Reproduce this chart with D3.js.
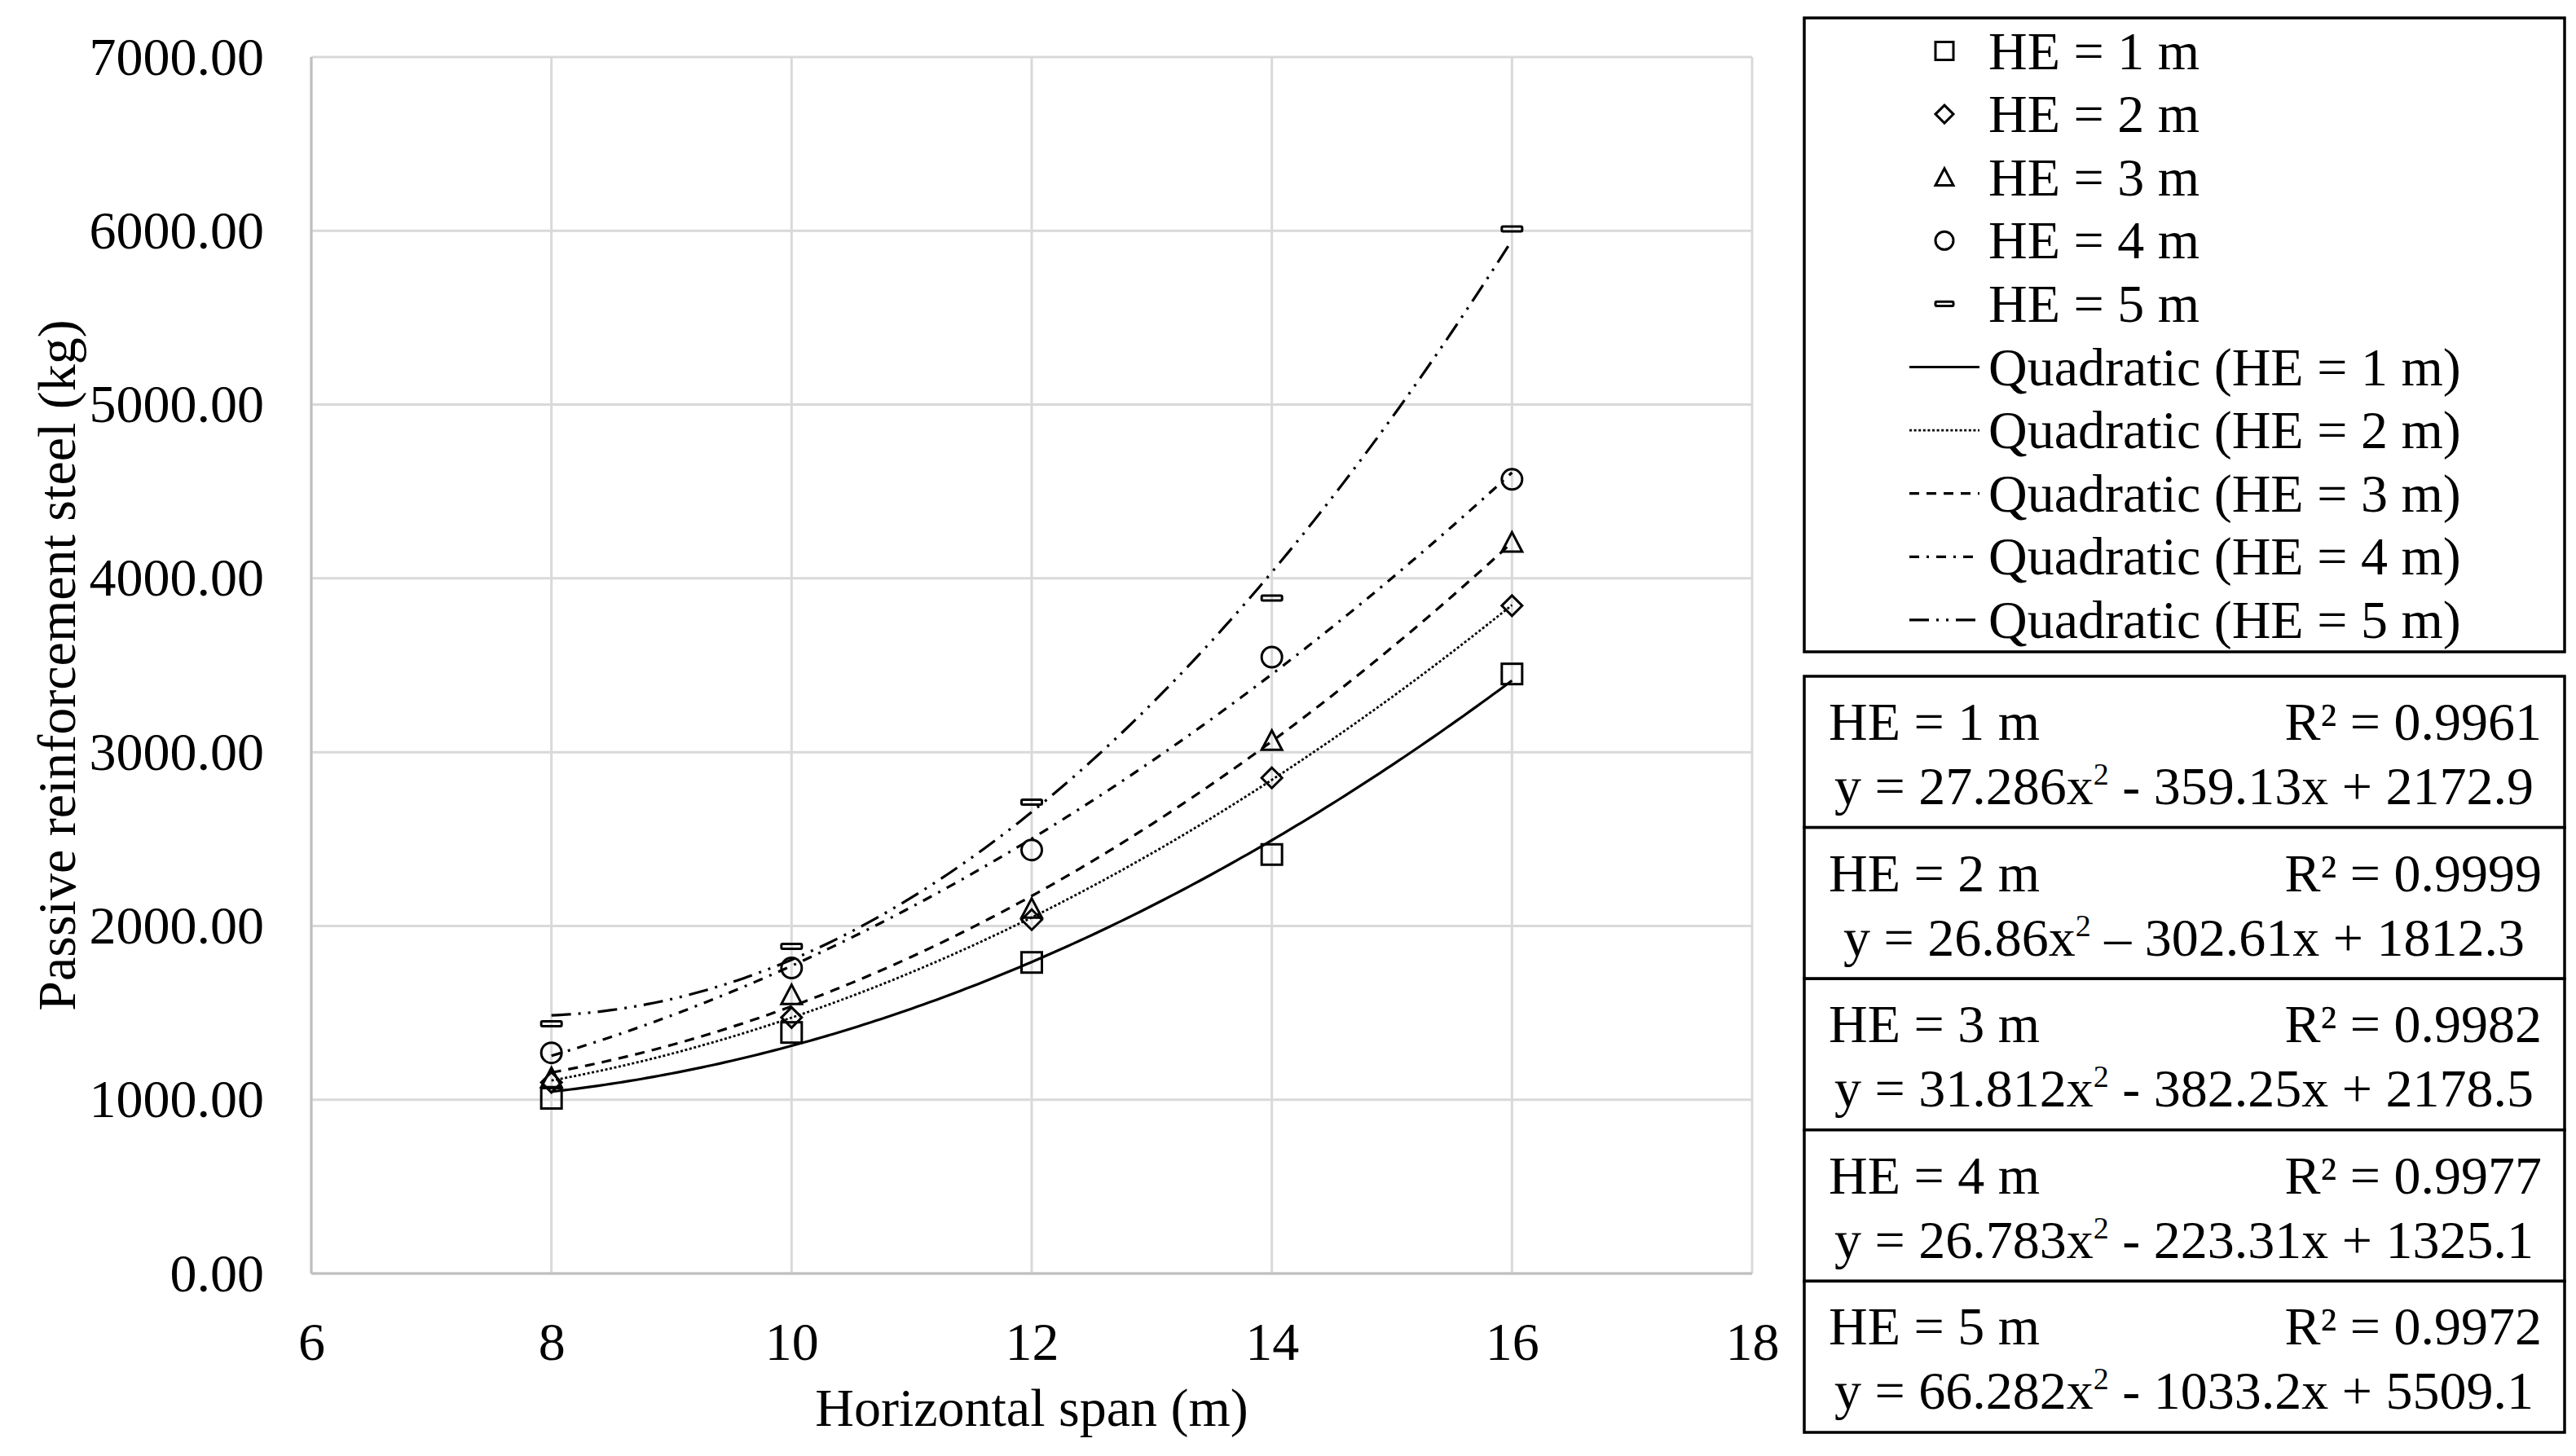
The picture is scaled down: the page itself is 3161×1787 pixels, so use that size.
<!DOCTYPE html>
<html><head><meta charset="utf-8">
<script src="https://cdn.jsdelivr.net/npm/d3@7"></script>
<style>
body{margin:0;background:#fff}
svg{display:block}
text{font-family:"Liberation Serif","Times New Roman",serif;fill:#000}
</style>
</head><body>
<svg id="c" width="3161" height="1787"></svg>
<script>
// ---------- data ----------
const spans = [8, 10, 12, 14, 16];
const seriesNames = ["HE = 1 m", "HE = 2 m", "HE = 3 m", "HE = 4 m", "HE = 5 m"];
const he1 = [1008, 1387, 1790, 2411, 3450];
const he2 = [1100, 1473, 2036, 2852, 3843];
const he3 = [1125, 1603, 2100, 3066, 4207];
const he4 = [1270, 1758, 2437, 3547, 4570];
const he5 = [1437, 1883, 2712, 3887, 6011];
const seriesValues = [he1, he2, he3, he4, he5];
// quadratic trendline coefficients as printed in the chart
const fitA = [27.286, 26.86, 31.812, 26.783, 66.282];
const fitB = [-359.13, -302.61, -382.25, -223.31, -1033.2];
const fitC = [2172.9, 1812.3, 2178.5, 1325.1, 5509.1];
const r2Labels = ["R² = 0.9961", "R² = 0.9999", "R² = 0.9982", "R² = 0.9977", "R² = 0.9972"];
const eqLabels = [
  "y = 27.286x² - 359.13x + 2172.9",
  "y = 26.86x² – 302.61x + 1812.3",
  "y = 31.812x² - 382.25x + 2178.5",
  "y = 26.783x² - 223.31x + 1325.1",
  "y = 66.282x² - 1033.2x + 5509.1"
];
const trendNames = ["Quadratic (HE = 1 m)", "Quadratic (HE = 2 m)", "Quadratic (HE = 3 m)", "Quadratic (HE = 4 m)", "Quadratic (HE = 5 m)"];
const xTicks = [6, 8, 10, 12, 14, 16, 18];
const yTicks = [0, 1000, 2000, 3000, 4000, 5000, 6000, 7000];
const xTitle = "Horizontal span (m)";
const yTitle = "Passive reinforcement steel (kg)";

// ---------- styles ----------
const markerTypes = ["square", "diamond", "triangle", "circle", "dash"];
const dashes = [null, "3,2.6", "12,9", "12,9,3,9", "24,9,3,9,3,9"];
const FS = 66;

const svg = d3.select("#c");
const L = 382, R = 2150, T = 70, B = 1563;
const x = d3.scaleLinear().domain([6, 18]).range([L, R]);
const y = d3.scaleLinear().domain([0, 7000]).range([B, T]);

// gridlines
const grid = svg.append("g");
grid.selectAll(".hg").data(yTicks).join("line")
  .attr("x1", L).attr("x2", R).attr("y1", d => y(d)).attr("y2", d => y(d))
  .attr("stroke", "#d9d9d9").attr("stroke-width", 3);
grid.selectAll(".vg").data(xTicks).join("line")
  .attr("y1", T).attr("y2", B).attr("x1", d => x(d)).attr("x2", d => x(d))
  .attr("stroke", "#d9d9d9").attr("stroke-width", 3);
// axis lines
svg.append("line").attr("x1", L).attr("x2", L).attr("y1", T).attr("y2", B)
  .attr("stroke", "#bfbfbf").attr("stroke-width", 3);
svg.append("line").attr("x1", L).attr("x2", R).attr("y1", B).attr("y2", B)
  .attr("stroke", "#bfbfbf").attr("stroke-width", 3);

// axes (labels only)
const ya = svg.append("g").attr("transform", `translate(${L},0)`)
  .call(d3.axisLeft(y).tickValues(yTicks).tickFormat(d3.format(".2f")).tickSize(0).tickPadding(58));
const xa = svg.append("g").attr("transform", `translate(0,${B})`)
  .call(d3.axisBottom(x).tickValues(xTicks).tickFormat(d3.format("d")).tickSize(0).tickPadding(59));
[ya, xa].forEach(a => {
  a.select(".domain").remove();
  a.selectAll("text").attr("font-size", FS).attr("font-family", '"Liberation Serif","Times New Roman",serif').attr("fill", "#000");
});

// titles
svg.append("text").attr("x", (L + R) / 2).attr("y", 1750).attr("text-anchor", "middle")
  .attr("font-size", FS).text(xTitle);
svg.append("text").attr("transform", `translate(92,${(T + B) / 2}) rotate(-90)`).attr("text-anchor", "middle")
  .attr("font-size", FS).text(yTitle);

// marker drawing
function drawMarker(g, type, cx, cy, s) {
  const h = s / 2;
  let el;
  if (type === "square") {
    el = g.append("rect").attr("x", cx - h).attr("y", cy - h).attr("width", s).attr("height", s);
  } else if (type === "diamond") {
    el = g.append("path").attr("d", `M${cx},${cy - h}L${cx + h},${cy}L${cx},${cy + h}L${cx - h},${cy}Z`);
  } else if (type === "triangle") {
    el = g.append("path").attr("d", `M${cx},${cy - h}L${cx + h},${cy + h * 0.9}L${cx - h},${cy + h * 0.9}Z`);
  } else if (type === "circle") {
    el = g.append("circle").attr("cx", cx).attr("cy", cy).attr("r", h);
  } else {
    el = g.append("rect").attr("x", cx - h).attr("y", cy - s * 0.12).attr("width", s).attr("height", s * 0.24).attr("rx", 1.5);
  }
  el.attr("fill", "none").attr("stroke", "#000").attr("stroke-width", 3);
}

// data markers
const mk = svg.append("g");
seriesValues.forEach((vals, si) => {
  vals.forEach((v, i) => drawMarker(mk, markerTypes[si], x(spans[i]), y(v), 25));
});

// trendlines
const line = d3.line().x(d => x(d[0])).y(d => y(d[1]));
const xs = d3.range(spans[0], spans[spans.length - 1] + 1e-9, 0.05);
const tl = svg.append("g");
seriesValues.forEach((vals, si) => {
  const pts = xs.map(v => [v, fitA[si] * v * v + fitB[si] * v + fitC[si]]);
  const p = tl.append("path").attr("d", line(pts)).attr("fill", "none")
    .attr("stroke", "#000").attr("stroke-width", si === 1 ? 2.8 : 3.2);
  if (dashes[si]) p.attr("stroke-dasharray", dashes[si]);
});

// legend
const lg = svg.append("g");
lg.append("rect").attr("x", 2214).attr("y", 22).attr("width", 933).attr("height", 778)
  .attr("fill", "#fff").attr("stroke", "#000").attr("stroke-width", 3.5);
const legendItems = seriesNames.map((n, i) => ({ name: n, kind: "marker", idx: i }))
  .concat(trendNames.map((n, i) => ({ name: n, kind: "line", idx: i })));
legendItems.forEach((it, k) => {
  const cy = 62.5 + 77.6 * k;
  if (it.kind === "marker") {
    drawMarker(lg, markerTypes[it.idx], 2386, cy, 22);
  } else {
    const p = lg.append("line").attr("x1", 2343).attr("x2", 2429).attr("y1", cy).attr("y2", cy)
      .attr("stroke", "#000").attr("stroke-width", it.idx === 1 ? 2.6 : 3.2);
    if (dashes[it.idx]) p.attr("stroke-dasharray", dashes[it.idx]);
  }
  lg.append("text").attr("x", 2440).attr("y", cy + 22).attr("font-size", FS).text(it.name);
});

// equation table
const tb = svg.append("g");
const tTop = 830, rowH = 185.6;
seriesNames.forEach((n, i) => {
  const top = tTop + rowH * i;
  tb.append("rect").attr("x", 2214).attr("y", top).attr("width", 933).attr("height", rowH)
    .attr("fill", "#fff").attr("stroke", "#000").attr("stroke-width", 3.5);
  tb.append("text").attr("x", 2244).attr("y", top + 78).attr("font-size", FS).text(n);
  tb.append("text").attr("x", 3119).attr("y", top + 78).attr("font-size", FS).attr("text-anchor", "end").text(r2Labels[i]);
  const parts = eqLabels[i].split("²");
  const t = tb.append("text").attr("x", 2680).attr("y", top + 157).attr("font-size", FS).attr("text-anchor", "middle");
  t.append("tspan").text(parts[0]);
  t.append("tspan").attr("font-size", 38).attr("dy", -24).text("2");
  t.append("tspan").attr("dy", 24).text(parts[1]);
});
</script>
</body></html>
